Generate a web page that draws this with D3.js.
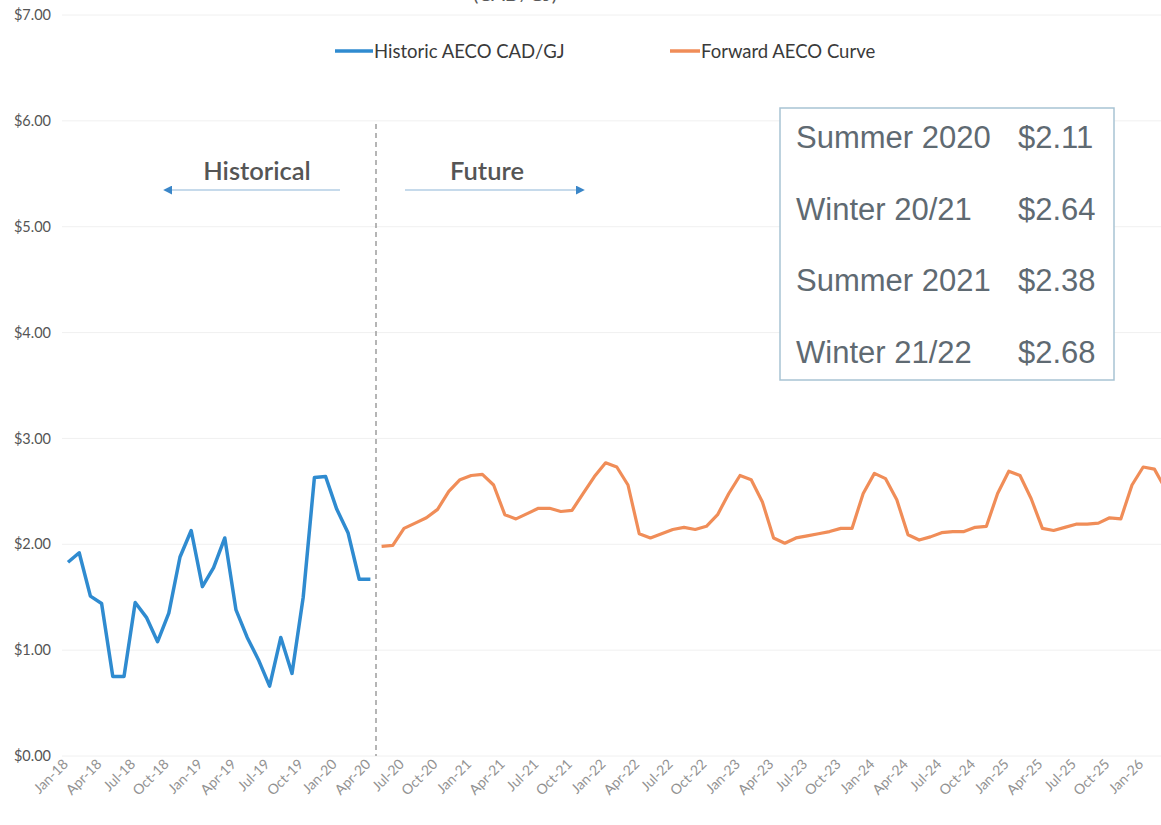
<!DOCTYPE html>
<html>
<head>
<meta charset="utf-8">
<script src="https://cdn.jsdelivr.net/npm/d3@7"></script>
<style>
  html, body { margin: 0; padding: 0; background: #fff; }
  svg { display: block; }
</style>
</head>
<body>
<div id="chart"></div>
<script>
// month index 0 = Jan-18
const historicStart = 0;
const historicValues = [1.83, 1.92, 1.51, 1.44, 0.75, 0.75, 1.45, 1.31, 1.08, 1.35, 1.88, 2.13,
  1.60, 1.78, 2.06, 1.38, 1.12, 0.91, 0.66, 1.12, 0.78, 1.50, 2.63, 2.64,
  2.33, 2.11, 1.67, 1.67];

const forwardStart = 28; // May-20
const forwardValues = [1.98, 1.99, 2.15, 2.20, 2.25, 2.33, 2.50, 2.61,
  2.65, 2.66, 2.56, 2.28, 2.24, 2.29, 2.34, 2.34, 2.31, 2.32, 2.48, 2.64,
  2.77, 2.73, 2.56, 2.10, 2.06, 2.10, 2.14, 2.16, 2.14, 2.17, 2.28, 2.48,
  2.65, 2.61, 2.40, 2.06, 2.01, 2.06, 2.08, 2.10, 2.12, 2.15, 2.15, 2.48,
  2.67, 2.62, 2.42, 2.09, 2.04, 2.07, 2.11, 2.12, 2.12, 2.16, 2.17, 2.48,
  2.69, 2.65, 2.43, 2.15, 2.13, 2.16, 2.19, 2.19, 2.20, 2.25, 2.24, 2.56,
  2.73, 2.71, 2.52];

const tickLabels = ["Jan-18", "Apr-18", "Jul-18", "Oct-18", "Jan-19", "Apr-19", "Jul-19", "Oct-19",
  "Jan-20", "Apr-20", "Jul-20", "Oct-20", "Jan-21", "Apr-21", "Jul-21", "Oct-21",
  "Jan-22", "Apr-22", "Jul-22", "Oct-22", "Jan-23", "Apr-23", "Jul-23", "Oct-23",
  "Jan-24", "Apr-24", "Jul-24", "Oct-24", "Jan-25", "Apr-25", "Jul-25", "Oct-25", "Jan-26"];

const yTicks = [0, 1, 2, 3, 4, 5, 6, 7];

const summaryLabels = ["Summer 2020", "Winter 20/21", "Summer 2021", "Winter 21/22"];
const summaryValues = [2.11, 2.64, 2.38, 2.68];

const width = 1161, height = 825;
const blue = "#2f8bd0", orange = "#f08d58";
const labelFont = "Lato, 'Open Sans', sans-serif";

const svg = d3.select('#chart')
  .append('svg')
  .attr('width', width)
  .attr('height', height);

const x = d3.scaleLinear().domain([0, 96]).range([68, 1143.2]);
const y = d3.scaleLinear().domain([0, 7]).range([756, 15]);

// gridlines
svg.append('g')
  .selectAll('line')
  .data(yTicks)
  .enter()
  .append('line')
  .attr('x1', 62)
  .attr('x2', width)
  .attr('y1', d => y(d))
  .attr('y2', d => y(d))
  .attr('stroke', '#f0f0f0')
  .attr('stroke-width', 1);

// y axis labels
const yAxis = d3.axisLeft(y)
  .tickValues(yTicks)
  .tickSize(0)
  .tickFormat(d => '$' + d3.format('.2f')(d));

svg.append('g')
  .attr('transform', 'translate(51,0)')
  .call(yAxis)
  .call(g => g.select('.domain').remove())
  .selectAll('text')
  .attr('fill', '#555')
  .style('font-family', labelFont)
  .style('font-size', '14.5px')
  .attr('x', 0)
  .attr('dy', '0.32em');

// x axis labels, every third month
svg.append('g')
  .selectAll('text')
  .data(tickLabels)
  .enter()
  .append('text')
  .attr('transform', (d, i) => `translate(${x(i * 3) + 1},765) rotate(-45)`)
  .attr('text-anchor', 'end')
  .attr('fill', '#929292')
  .style('font-family', labelFont)
  .style('font-size', '14px')
  .text(d => d);

// divider between history and forward curve
svg.append('line')
  .attr('x1', x(27.5))
  .attr('x2', x(27.5))
  .attr('y1', 124)
  .attr('y2', 756)
  .attr('stroke', '#9d9d9d')
  .attr('stroke-width', 1.5)
  .attr('stroke-dasharray', '5,4');

const line = d3.line()
  .x(d => x(d.m))
  .y(d => y(d.v));

const historic = historicValues.map((v, i) => ({ m: historicStart + i, v }));
const forward = forwardValues.map((v, i) => ({ m: forwardStart + i, v }));

svg.append('path')
  .datum(historic)
  .attr('d', line)
  .attr('fill', 'none')
  .attr('stroke', blue)
  .attr('stroke-width', 3.5)
  .attr('stroke-linejoin', 'round');

svg.append('path')
  .datum(forward)
  .attr('d', line)
  .attr('fill', 'none')
  .attr('stroke', orange)
  .attr('stroke-width', 3.2)
  .attr('stroke-linejoin', 'round');

// title, cut off at the top edge as in the scan
svg.append('text')
  .attr('x', 515)
  .attr('y', 1)
  .attr('text-anchor', 'middle')
  .attr('fill', '#595959')
  .style('font-family', labelFont)
  .style('font-size', '20px')
  .text('(CAD/GJ)');

// legend
const legend = [
  { label: 'Historic AECO CAD/GJ', color: blue, x1: 335, x2: 373 },
  { label: 'Forward AECO Curve', color: orange, x1: 670, x2: 700 }
];
const lg = svg.selectAll('.legend')
  .data(legend)
  .enter()
  .append('g')
  .attr('class', 'legend');
lg.append('line')
  .attr('x1', d => d.x1)
  .attr('x2', d => d.x2)
  .attr('y1', 51)
  .attr('y2', 51)
  .attr('stroke', d => d.color)
  .attr('stroke-width', 3.5);
lg.append('text')
  .attr('x', d => d.x2 + 1)
  .attr('y', 57.5)
  .attr('fill', '#3a3a3a')
  .style('font-family', labelFont)
  .style('font-size', '18.5px')
  .text(d => d.label);

// Historical / Future annotations
svg.append('defs').append('marker')
  .attr('id', 'arrow')
  .attr('viewBox', '0 0 10 10')
  .attr('refX', 8)
  .attr('refY', 5)
  .attr('markerWidth', 9)
  .attr('markerHeight', 9)
  .attr('markerUnits', 'userSpaceOnUse')
  .attr('orient', 'auto')
  .append('path')
  .attr('d', 'M0,0L10,5L0,10Z')
  .attr('fill', '#3a86c8');

const notes = [
  { label: 'Historical', cx: 257, from: 340, to: 165 },
  { label: 'Future', cx: 487, from: 405, to: 583 }
];
notes.forEach(n => {
  svg.append('text')
    .attr('x', n.cx)
    .attr('y', 180)
    .attr('text-anchor', 'middle')
    .attr('fill', '#555')
    .style('font-family', labelFont)
    .style('font-size', '25.5px')
    .style('font-weight', 600)
    .text(n.label);
  svg.append('line')
    .attr('x1', n.from)
    .attr('x2', n.to)
    .attr('y1', 190)
    .attr('y2', 190)
    .attr('stroke', '#8db6d8')
    .attr('stroke-width', 1.2)
    .attr('marker-end', 'url(#arrow)');
});

// seasonal average box
const box = svg.append('g');
box.append('rect')
  .attr('x', 780)
  .attr('y', 108)
  .attr('width', 334)
  .attr('height', 272)
  .attr('fill', '#fff')
  .attr('stroke', '#a8c3d3')
  .attr('stroke-width', 1.5);

const rowY = d3.scalePoint().domain(summaryLabels).range([148, 363]);
summaryLabels.forEach((lab, i) => {
  box.append('text')
    .attr('x', 796)
    .attr('y', rowY(lab))
    .attr('fill', '#5f6a72')
    .style('font-family', "'Liberation Sans', Arial, sans-serif")
    .style('font-size', '31px')
    .text(lab);
  box.append('text')
    .attr('x', 1018)
    .attr('y', rowY(lab))
    .attr('fill', '#5f6a72')
    .style('font-family', "'Liberation Sans', Arial, sans-serif")
    .style('font-size', '31px')
    .text('$' + summaryValues[i].toFixed(2));
});
</script>
</body>
</html>
